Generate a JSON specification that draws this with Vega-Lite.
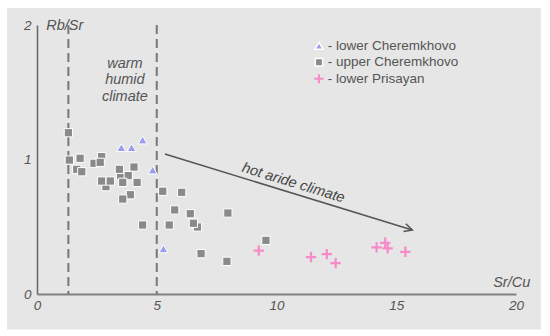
{
  "$schema": "https://vega.github.io/schema/vega-lite/v6.json",
  "width": 479,
  "height": 269,
  "autosize": {"type": "none"},
  "padding": {"left": 37, "top": 25, "right": 34, "bottom": 42},
  "background": "white",
  "config": {
    "view": {"stroke": null},
    "font": "Liberation Sans",
    "axis": {
      "grid": false,
      "ticks": false,
      "labelOverlap": false,
      "labelFlush": false,
      "labelFont": "Liberation Sans",
      "labelFontStyle": "italic",
      "labelColor": "#555555",
      "labelFontSize": 13.5,
      "titleFont": "Liberation Sans",
      "titleFontStyle": "italic",
      "titleFontWeight": "normal",
      "titleColor": "#555555",
      "titleFontSize": 14.5,
      "titleAngle": 0
    },
    "axisX": {"domainColor": "#808080", "domainWidth": 2, "labelPadding": 4, "titleX": 455.7, "titleY": -11.3, "titleAlign": "left", "titleBaseline": "middle"},
    "axisY": {"domainColor": "#666666", "domainWidth": 1.5, "labelPadding": 6, "titleX": 8.7, "titleY": 0, "titleAlign": "left", "titleBaseline": "middle"}
  },
  "layer": [
    {
      "data": {"values": [{}]},
      "mark": {"type": "rect", "color": "#e6e6e6"},
      "encoding": {
        "x": {"datum": -1.25, "type": "quantitative", "scale": {"domain": [0, 20], "nice": false, "zero": false}, "axis": {"values": [0, 5, 10, 15, 20], "format": "~g", "title": "Sr/Cu", "zindex": 2}},
        "x2": {"datum": 21.04},
        "y": {"datum": 2.126, "type": "quantitative", "scale": {"domain": [0, 2], "nice": false, "zero": false}, "axis": {"values": [0, 1, 2], "format": "~g", "title": "Rb/Sr", "zindex": 2}},
        "y2": {"datum": -0.264}
      }
    },
    {
      "data": {"values": [{"boundary": 1.31}, {"boundary": 5.0}]},
      "mark": {"type": "rule", "color": "#777777", "strokeWidth": 2, "strokeDash": [9, 5]},
      "encoding": {"x": {"field": "boundary", "type": "quantitative", "title": "Sr/Cu"}}
    },
    {
      "data": {"values": [{}]},
      "mark": {"type": "text", "text": ["warm", "humid", "climate"], "lineHeight": 16.2, "font": "Liberation Sans", "fontStyle": "italic", "fontSize": 14.5, "color": "#555555", "align": "center", "baseline": "middle"},
      "encoding": {"x": {"datum": 3.67, "type": "quantitative"}, "y": {"datum": 1.708, "type": "quantitative"}}
    },
    {
      "data": {"values": [{}]},
      "mark": {"type": "rule", "color": "#555555", "strokeWidth": 1.5},
      "encoding": {
        "x": {"datum": 5.34, "type": "quantitative"},
        "y": {"datum": 1.041, "type": "quantitative"},
        "x2": {"datum": 15.67},
        "y2": {"datum": 0.476}
      }
    },
    {
      "data": {"values": [{}]},
      "mark": {"type": "point", "shape": "M-1,-0.5L0,0L-1,0.5", "size": 256, "angle": 17, "filled": false, "stroke": "#555555", "strokeWidth": 1.5, "opacity": 1},
      "encoding": {"x": {"datum": 15.67, "type": "quantitative"}, "y": {"datum": 0.476, "type": "quantitative"}}
    },
    {
      "data": {"values": [{}]},
      "mark": {"type": "text", "text": "hot aride climate", "angle": 17, "font": "Liberation Sans", "fontStyle": "italic", "fontSize": 14.5, "color": "#444444", "align": "center", "baseline": "middle"},
      "encoding": {"x": {"datum": 10.7, "type": "quantitative"}, "y": {"datum": 0.823, "type": "quantitative"}}
    },
    {
      "data": {
        "values": [
          {"group": "upper Cheremkhovo", "SrCu": 1.31, "RbSr": 1.199},
          {"group": "upper Cheremkhovo", "SrCu": 1.66, "RbSr": 0.927},
          {"group": "upper Cheremkhovo", "SrCu": 1.35, "RbSr": 0.996},
          {"group": "upper Cheremkhovo", "SrCu": 1.8, "RbSr": 1.009},
          {"group": "upper Cheremkhovo", "SrCu": 1.87, "RbSr": 0.909},
          {"group": "upper Cheremkhovo", "SrCu": 2.38, "RbSr": 0.972},
          {"group": "upper Cheremkhovo", "SrCu": 2.7, "RbSr": 1.021},
          {"group": "upper Cheremkhovo", "SrCu": 2.64, "RbSr": 0.979},
          {"group": "upper Cheremkhovo", "SrCu": 2.88, "RbSr": 0.798},
          {"group": "upper Cheremkhovo", "SrCu": 2.7, "RbSr": 0.84},
          {"group": "upper Cheremkhovo", "SrCu": 3.06, "RbSr": 0.84},
          {"group": "upper Cheremkhovo", "SrCu": 3.49, "RbSr": 0.88},
          {"group": "upper Cheremkhovo", "SrCu": 3.44, "RbSr": 0.927},
          {"group": "upper Cheremkhovo", "SrCu": 3.81, "RbSr": 0.88},
          {"group": "upper Cheremkhovo", "SrCu": 4.05, "RbSr": 0.944},
          {"group": "upper Cheremkhovo", "SrCu": 3.58, "RbSr": 0.83},
          {"group": "upper Cheremkhovo", "SrCu": 4.18, "RbSr": 0.83},
          {"group": "upper Cheremkhovo", "SrCu": 3.9, "RbSr": 0.738},
          {"group": "upper Cheremkhovo", "SrCu": 3.58, "RbSr": 0.706},
          {"group": "upper Cheremkhovo", "SrCu": 4.41, "RbSr": 0.513},
          {"group": "upper Cheremkhovo", "SrCu": 5.25, "RbSr": 0.764},
          {"group": "upper Cheremkhovo", "SrCu": 6.04, "RbSr": 0.756},
          {"group": "upper Cheremkhovo", "SrCu": 5.75, "RbSr": 0.625},
          {"group": "upper Cheremkhovo", "SrCu": 6.4, "RbSr": 0.597},
          {"group": "upper Cheremkhovo", "SrCu": 6.7, "RbSr": 0.498},
          {"group": "upper Cheremkhovo", "SrCu": 6.53, "RbSr": 0.526},
          {"group": "upper Cheremkhovo", "SrCu": 5.52, "RbSr": 0.513},
          {"group": "upper Cheremkhovo", "SrCu": 7.97, "RbSr": 0.602},
          {"group": "upper Cheremkhovo", "SrCu": 6.85, "RbSr": 0.3},
          {"group": "upper Cheremkhovo", "SrCu": 7.93, "RbSr": 0.243},
          {"group": "upper Cheremkhovo", "SrCu": 9.56, "RbSr": 0.399},
          {"group": "lower Cheremkhovo", "SrCu": 3.52, "RbSr": 1.088},
          {"group": "lower Cheremkhovo", "SrCu": 3.95, "RbSr": 1.088},
          {"group": "lower Cheremkhovo", "SrCu": 4.41, "RbSr": 1.145},
          {"group": "lower Cheremkhovo", "SrCu": 4.83, "RbSr": 0.922},
          {"group": "lower Cheremkhovo", "SrCu": 5.28, "RbSr": 0.336},
          {"group": "lower Prisayan", "SrCu": 9.26, "RbSr": 0.322},
          {"group": "lower Prisayan", "SrCu": 11.44, "RbSr": 0.275},
          {"group": "lower Prisayan", "SrCu": 12.1, "RbSr": 0.297},
          {"group": "lower Prisayan", "SrCu": 12.47, "RbSr": 0.23},
          {"group": "lower Prisayan", "SrCu": 14.18, "RbSr": 0.347},
          {"group": "lower Prisayan", "SrCu": 14.54, "RbSr": 0.381},
          {"group": "lower Prisayan", "SrCu": 14.64, "RbSr": 0.34},
          {"group": "lower Prisayan", "SrCu": 15.38, "RbSr": 0.314}
        ]
      },
      "mark": {"type": "point", "filled": true, "opacity": 1, "size": 81, "strokeWidth": 1},
      "encoding": {
        "x": {"field": "SrCu", "type": "quantitative", "title": "Sr/Cu"},
        "y": {"field": "RbSr", "type": "quantitative", "title": "Rb/Sr"},
        "color": {
          "field": "group", "type": "nominal",
          "scale": {"domain": ["lower Cheremkhovo", "upper Cheremkhovo", "lower Prisayan"], "range": ["#9b9bef", "#8a8a8a", "#f78ac9"]},
          "legend": {"orient": "none", "legendX": 275.2, "legendY": 14, "title": null, "padding": 0, "rowPadding": 1.5, "labelExpr": "'- ' + datum.label", "labelFont": "Liberation Sans", "labelFontSize": 13.5, "labelColor": "#555555", "labelOffset": 2, "symbolSize": 64}
        },
        "shape": {
          "field": "group", "type": "nominal",
          "scale": {"domain": ["lower Cheremkhovo", "upper Cheremkhovo", "lower Prisayan"], "range": ["triangle-up", "M-0.92,-0.92H0.92V0.92H-0.92Z", "M-1.15,-0.25H-0.25V-1.15H0.25V-0.25H1.15V0.25H0.25V1.15H-0.25V0.25H-1.15Z"]}
        },
        "stroke": {
          "field": "group", "type": "nominal",
          "scale": {"domain": ["lower Cheremkhovo", "upper Cheremkhovo", "lower Prisayan"], "range": ["#ffffff", "#ffffff", "transparent"]}
        }
      }
    }
  ]
}
